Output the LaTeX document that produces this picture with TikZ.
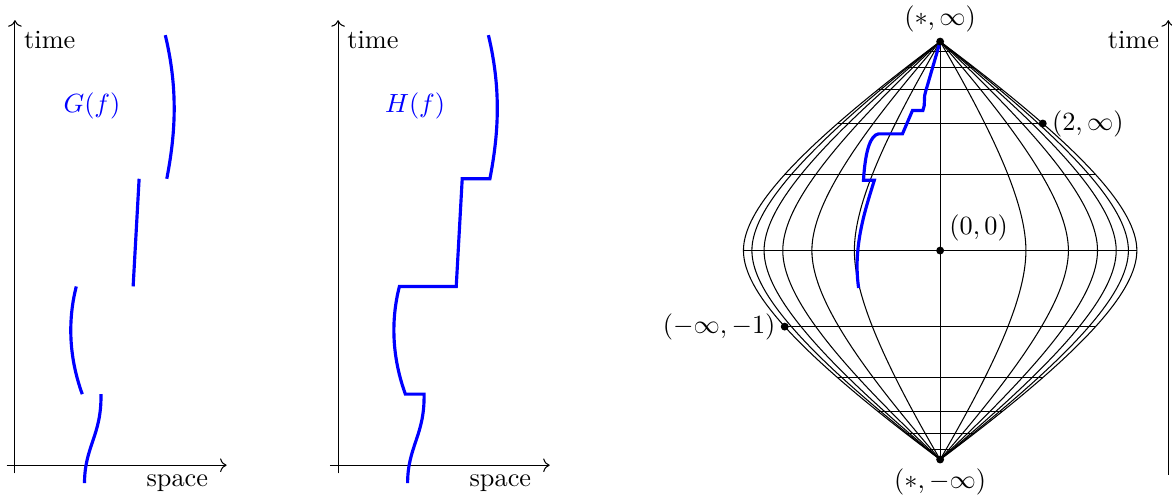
\documentclass[tikz,border=0pt]{standalone}
\usepackage{amsmath,amssymb}
\usetikzlibrary{arrows.meta,calc}

\begin{document}
\begin{tikzpicture}[
		axis/.style={->},
		trace/.style={blue, very thick},
		grid/.style={black, line width=0.4pt},
		declare function={wd(\t)=1-\t*\t*2.38/(1+1.38*abs(\t));}
		]
		\useasboundingbox (-0.2,-0.44) rectangle (15.47,6.22);
		
		% left: G(f)
		\draw[axis] (-0.11,0) -- (2.83,0);
		\draw[axis] (0,-0.11) -- (0,5.95);
		\node (time1) at (0,5.69) [right] {time};
		\node (space1) at (2.17,-0.29) [anchor=base] {space};
		\node (gf) at (1.03,4.8) [blue] {$G(f)$};
		\draw[trace] (0.93,-0.24) .. controls (0.93,0.25) and (1.16,0.40) .. (1.15,0.95);
		\draw[trace] (0.90,0.95) .. controls (0.70,1.5) and (0.72,2.0) .. (0.82,2.39);
		\draw[trace] (1.58,2.39) -- (1.66,3.83);
		\draw[trace] (2.03,3.83) .. controls (2.14,4.4) and (2.19,5.0) .. (2.01,5.75);
		
		% middle: H(f)
		\begin{scope}[xshift=4.32cm]
			\draw[axis] (-0.11,0) -- (2.83,0);
			\draw[axis] (0,-0.11) -- (0,5.95);
			\node (time2) at (0,5.69) [right] {time};
			\node (space2) at (2.17,-0.29) [anchor=base] {space};
			\node (hf) at (1.03,4.8) [blue] {$H(f)$};
			\draw[trace] (0.93,-0.24) .. controls (0.93,0.25) and (1.16,0.40) .. (1.15,0.95)
				-- (0.90,0.95) .. controls (0.70,1.5) and (0.72,2.0) .. (0.82,2.39)
				-- (1.58,2.39) -- (1.66,3.83)
				-- (2.03,3.83) .. controls (2.14,4.4) and (2.19,5.0) .. (2.01,5.75);
		\end{scope}
		
		% right: compactified space-time
		\begin{scope}[shift={(12.37,2.87)}]
			\def\outw{2.63}
			\def\outh{2.794}
			\coordinate (top) at (0,\outh);
			\coordinate (bot) at (0,-\outh);
			\coordinate (ctr) at (0,0);
			\coordinate (inf2) at ({wd(0.608)*\outw},{0.608*\outh});
			\coordinate (minf) at ({-wd(0.364)*\outw},{-0.364*\outh});
			
			% space lines
			\draw[grid] (top) -- (bot);
			\foreach \side in {1,-1}
			\foreach \s in {0.436,0.652,0.8,0.895,0.957,1}{
				\draw[grid] plot[domain=-1:1, samples=101] ({\side*\s*\outw*wd(\x)}, {\outh*\x});
			}
			% time lines
			\draw[grid] (-\outw,0) -- (\outw,0);
			\foreach \e in {0.364,0.608,0.77,0.876,0.952}{
				\pgfmathsetmacro\tlen{\outw*wd(\e)}
				\draw[grid] (-\tlen,\e*\outh) -- (\tlen,\e*\outh);
				\draw[grid] (-\tlen,-\e*\outh) -- (\tlen,-\e*\outh);
			}
			
			\draw[trace] (-1.09,-0.50) .. controls (-1.17,0.05) and (-1.0,0.55) .. (-0.88,0.94)
				-- (-1.025,0.94) .. controls (-1.0,1.35) and (-0.93,1.54) .. (-0.825,1.56)
				-- (-0.504,1.56) -- (-0.37,1.872) -- (-0.231,1.872)
				.. controls (-0.19,1.96) and (-0.23,2.05) .. (-0.19,2.14) -- (top);
			
			\foreach \p in {top,bot,ctr,inf2,minf}
				\fill (\p) circle (1.5pt);
			\node (toplabel) at (top) [above] {$(*,\infty)$};
			\node (botlabel) at (bot) [below] {$(*,-\infty)$};
			\node (ctrlabel) at (ctr) [above right] {$(0,0)$};
			\node (inflabel) at (inf2) [right] {$(2,\infty)$};
			\node (minflabel) at (minf) [left] {$(-\infty,-1)$};
		\end{scope}
		
		\draw[axis] (15.42,-0.13) -- (15.42,5.95);
		\node (time3) at (15.42,5.69) [left] {time};
	\end{tikzpicture}
\end{document}
